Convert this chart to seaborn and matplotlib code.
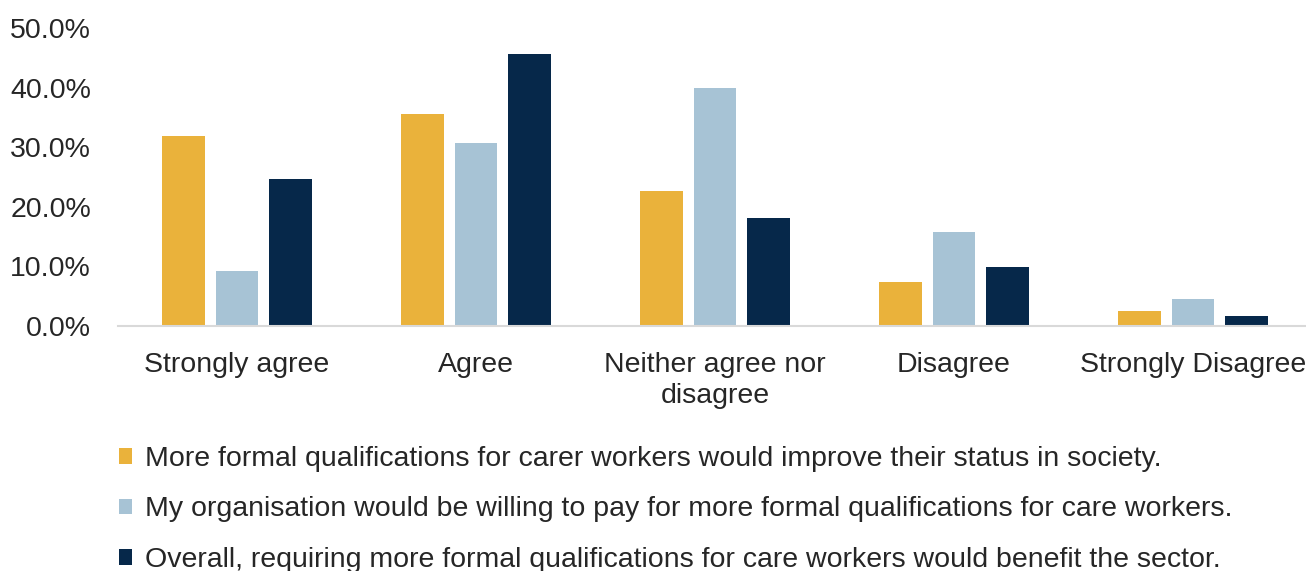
import matplotlib
matplotlib.use("Agg")
import matplotlib.pyplot as plt
import seaborn as sns
import pandas as pd
from matplotlib.ticker import PercentFormatter, MultipleLocator

categories = ["Strongly agree", "Agree", "Neither agree nor\ndisagree",
              "Disagree", "Strongly Disagree"]
series_names = [
    "More formal qualifications for carer workers would improve their status in society.",
    "My organisation would be willing to pay for more formal qualifications for care workers.",
    "Overall, requiring more formal qualifications for care workers would benefit the sector.",
]
improve_status = [31.8, 35.5, 22.7, 7.3, 2.6]
willing_to_pay = [9.2, 30.7, 39.9, 15.7, 4.5]
benefit_sector = [24.6, 45.7, 18.2, 9.9, 1.7]
colors = ["#EAB23B", "#A7C3D5", "#06284A"]

rows = []
for name, vals in zip(series_names, [improve_status, willing_to_pay, benefit_sector]):
    for cat, v in zip(categories, vals):
        rows.append({"category": cat, "series": name, "value": v})
df = pd.DataFrame(rows)

sns.set_theme(style="white")
plt.rcParams["font.family"] = ["Liberation Sans", "DejaVu Sans"]

FS = 20.5
fig = plt.figure(figsize=(13.06, 5.71), dpi=100)
# plot area runs slightly past the right edge of the canvas
ax = fig.add_axes([117.5 / 1306, 1 - 326 / 571, 1195 / 1306, (326 - 28) / 571])

sns.barplot(data=df, x="category", y="value", hue="series",
            order=categories, hue_order=series_names, palette=colors,
            width=0.67, gap=0.2, linewidth=0, saturation=1, ax=ax)

ax.set_ylim(0, 50)
ax.set_xlim(-0.5, len(categories) - 0.5)
ax.yaxis.set_major_locator(MultipleLocator(10))
ax.yaxis.set_major_formatter(PercentFormatter(decimals=1))
ax.set_xlabel("")
ax.set_ylabel("")

for s in ["top", "right", "left"]:
    ax.spines[s].set_visible(False)
ax.spines["bottom"].set_color("#D9D9D9")
ax.spines["bottom"].set_linewidth(1.5)

ax.tick_params(axis="y", length=0, pad=19, labelsize=FS, labelcolor="#262626")
ax.tick_params(axis="x", length=0, pad=18.5, labelsize=FS, labelcolor="#262626")
for lbl in ax.get_xticklabels():
    lbl.set_linespacing(1.28)

handles, labels = ax.get_legend_handles_labels()
ax.legend_.remove()
fig.legend(handles, labels, loc="upper left", bbox_to_anchor=(119 / 1306, 1 - 446 / 571),
           frameon=False, fontsize=FS, handlelength=0.46, handleheight=0.46,
           handletextpad=0.45, labelspacing=0.86, borderaxespad=0, borderpad=0,
           labelcolor="#262626")

fig.savefig("out.png", dpi=100)
